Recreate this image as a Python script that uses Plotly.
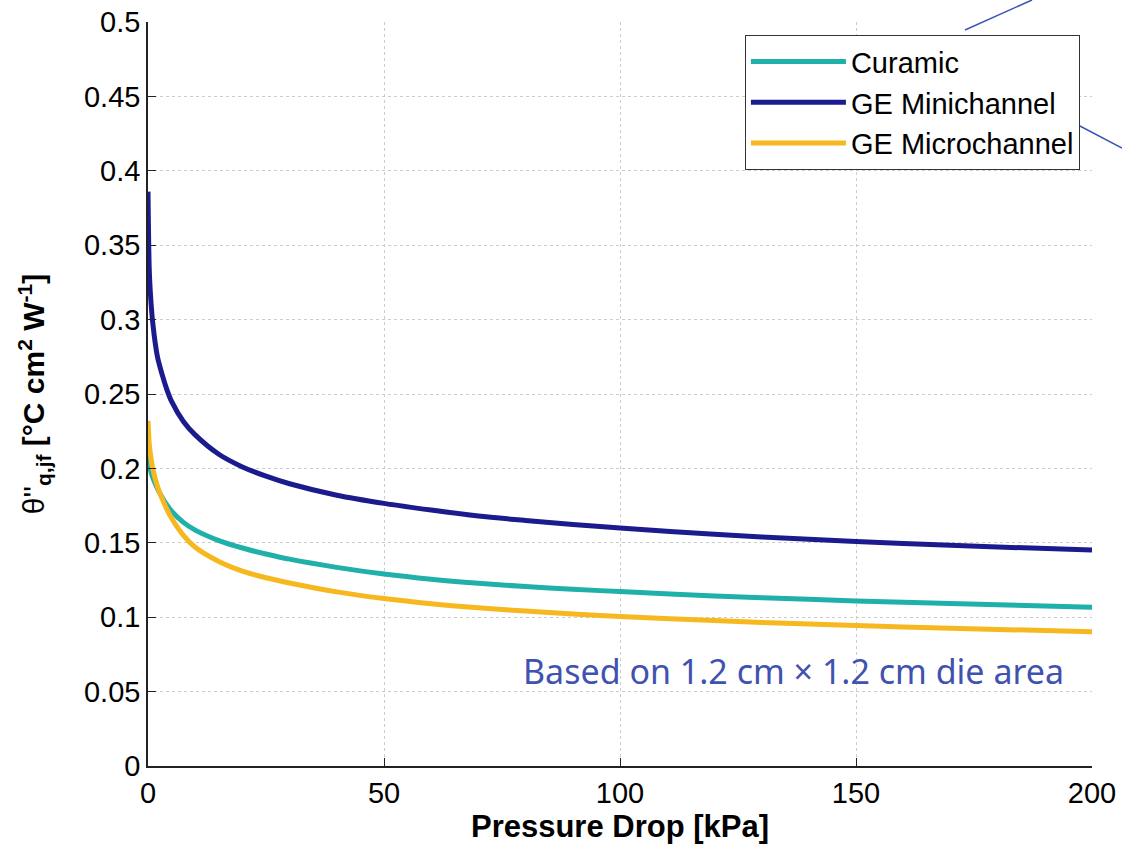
import plotly.graph_objects as go

pressure = [0, 0.25, 0.5, 1, 2, 3, 4, 5, 7.5, 10, 15, 20, 25, 30, 40, 50, 60, 70, 80, 90,
            100, 120, 140, 160, 180, 200]
curamic = [0.212, 0.204, 0.199, 0.194, 0.1865, 0.1805, 0.1755, 0.1713, 0.1637, 0.1585, 0.1515,
           0.1465, 0.1425, 0.139, 0.1335, 0.129, 0.1255, 0.1228, 0.1206, 0.1188, 0.1172, 0.1143,
           0.112, 0.110, 0.1084, 0.1067]
ge_mini = [0.386, 0.335, 0.318, 0.298, 0.275, 0.263, 0.253, 0.245, 0.2315, 0.2225, 0.2095,
           0.201, 0.1948, 0.1897, 0.182, 0.1765, 0.172, 0.168, 0.165, 0.1623, 0.160, 0.1557,
           0.1524, 0.1496, 0.1472, 0.1451]
ge_micro = [0.232, 0.217, 0.210, 0.200, 0.188, 0.1795, 0.1725, 0.1665, 0.155, 0.147, 0.1375,
            0.131, 0.1265, 0.123, 0.117, 0.1125, 0.109, 0.1063, 0.1041, 0.1022, 0.1005,
            0.0977, 0.0954, 0.0934, 0.0918, 0.0903]

series = [("Curamic", curamic, "#20B0AA"),
          ("GE Minichannel", ge_mini, "#1B1B8E"),
          ("GE Microchannel", ge_micro, "#F6B81E")]

fig = go.Figure()
for name, vals, col in series:
    fig.add_trace(go.Scatter(x=pressure, y=vals, mode="lines", name=name,
                             line=dict(color=col, width=5, shape="spline", smoothing=0.8)))

font_family = "Liberation Sans, Arial, sans-serif"
axis_common = dict(showgrid=True, gridcolor="#cccccc", griddash="dot", gridwidth=1,
                   showline=True, linecolor="#222222", linewidth=1.5,
                   ticks="inside", ticklen=8, tickcolor="#222222",
                   zeroline=False, tickfont=dict(size=29), automargin=False)
fig.update_layout(
    width=1122, height=846,
    margin=dict(l=148, r=30, t=22, b=80),
    paper_bgcolor="white", plot_bgcolor="white",
    font=dict(family=font_family, color="black"),
    showlegend=True,
    legend=dict(x=0.987, y=0.9825, xanchor="right", yanchor="top",
                bordercolor="#333333", borderwidth=1.2, bgcolor="white",
                font=dict(size=29, family=font_family), itemwidth=95,
                tracegroupgap=0),
    xaxis=dict(range=[0, 200], tickvals=[0, 50, 100, 150, 200],
               title=dict(text="<b>Pressure Drop [kPa]</b>", font=dict(size=31), standoff=4),
               **axis_common),
    yaxis=dict(range=[0, 0.5], tickvals=[0, 0.05, 0.1, 0.15, 0.2, 0.25, 0.3, 0.35, 0.4, 0.45, 0.5],
               ticktext=["0", "0.05", "0.1", "0.15", "0.2", "0.25", "0.3", "0.35", "0.4", "0.45", "0.5"],
               title=dict(text="θ''<sub><b>q,jf</b></sub><b> [°C cm<sup>2</sup> W<sup>-1</sup>]</b>",
                          font=dict(size=30), standoff=30),
               **axis_common),
)

fig.add_annotation(text="Based on 1.2 cm × 1.2 cm die area", xref="paper", yref="paper",
                   x=(1066 - 148) / 944, y=(766 - 671) / 744, xanchor="right", yanchor="middle",
                   showarrow=False, font=dict(size=34, color="#4052B0", family="Noto Sans, sans-serif"))

for (x0, y0, x1, y1) in [(965, 30, 1032, 0), (1078, 125, 1122, 148)]:
    fig.add_shape(type="line", xref="paper", yref="paper",
                  x0=(x0 - 148) / 944, y0=(766 - y0) / 744,
                  x1=(x1 - 148) / 944, y1=(766 - y1) / 744,
                  line=dict(color="#3A55B8", width=1.5))

fig.write_html("out.html", config={"displayModeBar": False},
               post_script="document.body.style.margin='0';document.body.style.overflow='hidden';")
